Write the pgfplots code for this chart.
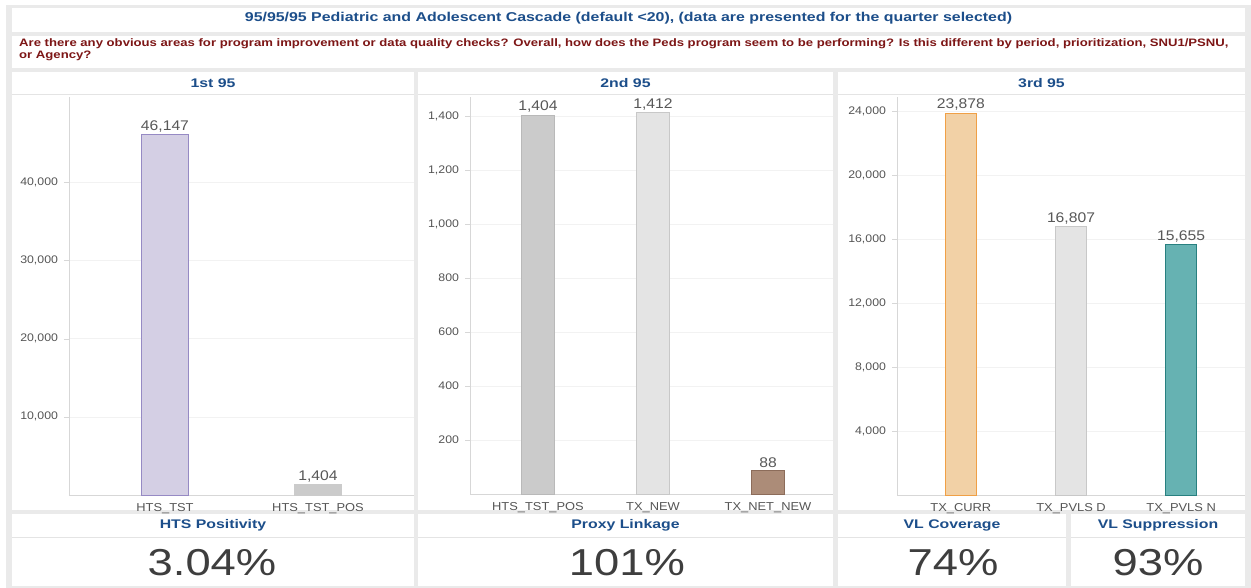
\documentclass[border=0pt]{standalone}
\usepackage{fontspec}
\setmainfont{Liberation Sans}[FakeStretch=1.12]
\usepackage{graphicx}
\usepackage{pgfplots}
\pgfplotsset{compat=1.18}

\definecolor{frame}{RGB}{234,234,234}
\definecolor{sepline}{RGB}{228,228,228}
\definecolor{axisline}{RGB}{215,215,215}
\definecolor{titleblue}{RGB}{28,78,138}
\definecolor{qred}{RGB}{125,22,22}
\definecolor{ticktext}{RGB}{85,85,85}
\definecolor{valtext}{RGB}{88,88,88}
\definecolor{bigtext}{RGB}{62,62,62}
\definecolor{purplefill}{RGB}{212,207,228}
\definecolor{purpleedge}{RGB}{150,138,196}
\definecolor{grayfill}{RGB}{203,203,203}
\definecolor{grayedge}{RGB}{185,185,185}
\definecolor{lightfill}{RGB}{228,228,228}
\definecolor{lightedge}{RGB}{200,200,200}
\definecolor{brownfill}{RGB}{172,140,120}
\definecolor{brownedge}{RGB}{140,108,90}
\definecolor{orangefill}{RGB}{242,209,166}
\definecolor{orangeedge}{RGB}{240,160,70}
\definecolor{tealfill}{RGB}{102,178,178}
\definecolor{tealedge}{RGB}{40,128,128}

% horizontally widened text
\newcommand{\wide}[2]{\scalebox{#1}[1]{#2}}

\pgfplotsset{
  cascade/.style={
    scale only axis,
    anchor=south west,
    ybar,
    ymin=0,
    axis x line*=bottom,
    axis y line*=left,
    axis line style={draw=axisline},
    tick align=outside,
    major tick length=5pt,
    ytick style={draw=axisline},
    xtick style={draw=none},
    scaled y ticks=false,
    ymajorgrids,
    major grid style={draw=black!5},
    /pgf/number format/.cd, 1000 sep={,}, assume math mode=true,
    /pgfplots/.cd,
    yticklabel style={font=\fontsize{11}{12}\selectfont, text=ticktext, xshift=-2.5pt},
    xticklabel style={font=\fontsize{11.5}{12}\selectfont, text=ticktext},
    nodes near coords,
    nodes near coords style={font=\fontsize{14}{15}\selectfont, text=valtext, anchor=south, inner sep=2pt},
    clip=false,
  }
}

\begin{document}
\begin{tikzpicture}[x=1pt,y=1pt]
\useasboundingbox (0,0) rectangle (1251,588);
% frame and panels
\fill[white] (0,0) rectangle (1251,588);
\fill[frame] (6,0) rectangle (1251,583);
\fill[white] (12,556) rectangle (1245,580);
\fill[white] (12,520) rectangle (1245,552);
\foreach \a/\b in {12/414, 418/833, 838/1245} {
  \fill[white] (\a,78) rectangle (\b,516);
  \draw[sepline] (\a,494) -- (\b,494);
}
\foreach \a/\b in {12/414, 418/833, 838/1066, 1071/1245} {
  \fill[white] (\a,2) rectangle (\b,74);
  \draw[sepline] (\a,51) -- (\b,51);
}

% headings
\node[font=\bfseries\fontsize{12.8}{14}\selectfont, text=titleblue] at (628.5,569.5)
  {\wide{1.11}{95/95/95 Pediatric and Adolescent Cascade (default <20), (data are presented for the quarter selected)}};
\node[anchor=north west, inner sep=0pt, font=\bfseries\fontsize{10.8}{12}\selectfont, text=qred] at (19,549.5)
  {\wide{1.085}{Are there any obvious areas for program improvement or data quality checks? Overall, how does the Peds program seem to be performing? Is this different by period, prioritization, SNU1/PSNU,}};
\node[anchor=north west, inner sep=0pt, font=\bfseries\fontsize{10.8}{12}\selectfont, text=qred] at (19,537.5)
  {\wide{1.085}{or Agency?}};

\foreach \x/\t in {213/1st 95, 625.5/2nd 95, 1041.5/3rd 95}
  \node[font=\bfseries\fontsize{12.5}{13}\selectfont, text=titleblue] at (\x,505) {\wide{1.13}{\t}};

% 1st 95
\begin{axis}[cascade, at={(69pt,93pt)}, width=345pt, height=398pt,
  xmin=-0.627, xmax=1.627, ymax=50900, bar width=47pt,
  ytick={10000,20000,30000,40000},
  xtick={0,1}, xticklabels={HTS\_TST, HTS\_TST\_POS}]
  \addplot[fill=purplefill, draw=purpleedge, bar shift=0pt] coordinates {(0,46147)};
  \addplot[fill=grayfill, draw=grayfill, bar shift=0pt] coordinates {(1,1404)};
\end{axis}

% 2nd 95
\begin{axis}[cascade, at={(470pt,94pt)}, width=363pt, height=397pt,
  xmin=-0.591, xmax=2.565, ymax=1470, bar width=33pt,
  ytick={200,400,600,800,1000,1200,1400},
  xtick={0,1,2}, xticklabels={HTS\_TST\_POS, TX\_NEW, TX\_NET\_NEW}]
  \addplot[fill=grayfill, draw=grayedge, bar shift=0pt] coordinates {(0,1404)};
  \addplot[fill=lightfill, draw=lightedge, bar shift=0pt] coordinates {(1,1412)};
  \addplot[fill=brownfill, draw=brownedge, bar shift=0pt] coordinates {(2,88)};
\end{axis}

% 3rd 95
\begin{axis}[cascade, at={(897pt,93pt)}, width=348pt, height=398pt,
  xmin=-0.58, xmax=2.58, ymax=24875, bar width=31pt,
  ytick={4000,8000,12000,16000,20000,24000},
  xtick={0,1,2}, xticklabels={TX\_CURR, TX\_PVLS D, TX\_PVLS N}]
  \addplot[fill=orangefill, draw=orangeedge, bar shift=0pt] coordinates {(0,23878)};
  \addplot[fill=lightfill, draw=lightedge, bar shift=0pt] coordinates {(1,16807)};
  \addplot[fill=tealfill, draw=tealedge, bar shift=0pt] coordinates {(2,15655)};
\end{axis}

% summary tiles
\foreach \x/\t in {213/HTS Positivity, 625.5/Proxy Linkage, 952/VL Coverage, 1158/VL Suppression}
  \node[font=\bfseries\fontsize{12.5}{13}\selectfont, text=titleblue] at (\x,63) {\wide{1.13}{\t}};
\foreach \x/\t in {212/3.04\%, 627/101\%, 953/74\%, 1158/93\%}
  \node[font=\fontsize{37.5}{40}\selectfont, text=bigtext] at (\x,25) {\wide{1.08}{\t}};
\end{tikzpicture}
\end{document}
